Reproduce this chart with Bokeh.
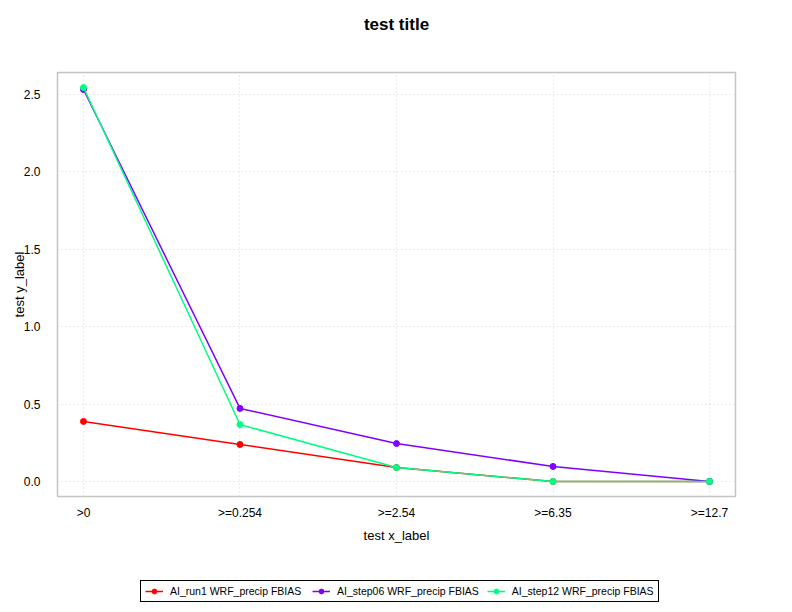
from bokeh.plotting import figure
from bokeh.layouts import column
from bokeh.models import FixedTicker, Legend, LegendItem, PrintfTickFormatter, Label
from bokeh.embed import file_html
from bokeh.resources import INLINE

categories = [">0", ">=0.254", ">=2.54", ">=6.35", ">=12.7"]
run1 = [0.388, 0.239, 0.09, 0.0, 0.0]
step06 = [2.532, 0.472, 0.245, 0.097, 0.0]
step12 = [2.545, 0.368, 0.09, 0.0, 0.0]
series_names = ["AI_run1 WRF_precip FBIAS", "AI_step06 WRF_precip FBIAS", "AI_step12 WRF_precip FBIAS"]
series_colors = ["#FF0000", "#8000FF", "#00FF80"]
y_ticks = [0.0, 0.5, 1.0, 1.5, 2.0, 2.5]
title_text = "test title"

xs = list(range(len(categories)))
FONT = "Liberation Sans"


def strip(height, x_range=(0, 1)):
    f = figure(width=792, height=height, output_backend="svg", toolbar_location=None,
               x_range=x_range, y_range=(0, 1),
               min_border_left=0, min_border_right=0, min_border_top=0, min_border_bottom=0)
    f.axis.visible = False
    f.grid.visible = False
    f.outline_line_color = None
    return f


# title strip
pt = strip(60)
pt.add_layout(Label(x=0.5, y=0.6, text=title_text, text_align="center", text_baseline="middle",
                    text_font=FONT, text_font_size="17px", text_font_style="bold",
                    text_color="black"))

# main chart
p = figure(width=792, height=512, output_backend="svg", toolbar_location=None,
           x_range=(-0.166, 4.166), y_range=(-0.097, 2.642),
           min_border_left=57, min_border_right=57, min_border_top=12, min_border_bottom=76)

p.outline_line_color = "#c4c4c4"
p.outline_line_width = 1.5
p.background_fill_color = "white"
p.border_fill_color = "white"

p.xaxis.ticker = FixedTicker(ticks=xs)
p.xaxis.major_label_overrides = {i: c for i, c in zip(xs, categories)}
p.yaxis.ticker = FixedTicker(ticks=y_ticks)
p.yaxis.formatter = PrintfTickFormatter(format="%.1f")

for ax in (p.xaxis[0], p.yaxis[0]):
    ax.axis_line_color = None
    ax.major_tick_line_color = None
    ax.minor_tick_line_color = None
    ax.major_tick_out = 0
    ax.major_tick_in = 0
    ax.major_label_text_font = FONT
    ax.major_label_text_font_size = "12px"
    ax.major_label_text_color = "black"
    ax.axis_label_text_font = FONT
    ax.axis_label_text_font_size = "13px"
    ax.axis_label_text_font_style = "normal"
    ax.axis_label_text_color = "black"

p.xaxis.axis_label = "test x_label"
p.yaxis.axis_label = "test y_label"
p.xaxis.major_label_standoff = 9
p.xaxis.axis_label_standoff = 5
p.yaxis.major_label_standoff = 17
p.yaxis.axis_label_standoff = -6

p.xgrid.ticker = FixedTicker(ticks=xs)
p.ygrid.ticker = FixedTicker(ticks=y_ticks)
for g in (p.xgrid[0], p.ygrid[0]):
    g.grid_line_color = "#d6d6d6"
    g.grid_line_dash = "1 3"
    g.grid_line_width = 1

all_series = [run1, step06, step12]
for color, ys in zip(series_colors, all_series):
    p.line(xs, ys, line_color=color, line_width=1.5)
    p.scatter(xs, ys, size=6, fill_color=color, line_color=color, marker="circle")

# legend strip below the chart (its range keeps the proxy glyphs off-screen)
pl = strip(40, x_range=(100, 101))
items = []
for name, color, ys in zip(series_names, series_colors, all_series):
    r_line = pl.line(xs, ys, line_color=color, line_width=1.5)
    r_pts = pl.scatter(xs, ys, size=5, fill_color=color, line_color=color, marker="circle")
    items.append(LegendItem(label=name, renderers=[r_line, r_pts]))

legend = Legend(items=items, orientation="horizontal", location=(83, 10))
legend.border_line_color = "black"
legend.border_line_width = 1
legend.border_line_alpha = 1
legend.background_fill_color = "white"
legend.label_text_font = FONT
legend.label_text_font_size = "10.5px"
legend.label_text_color = "black"
legend.glyph_width = 18
legend.glyph_height = 12
legend.label_standoff = 7
legend.label_width = 134
legend.label_height = 12
legend.spacing = 8
legend.padding = 4
legend.margin = 0
pl.add_layout(legend, "center")

layout = column(pt, p, pl, spacing=0)
open("out.html", "w").write(file_html(layout, INLINE))
